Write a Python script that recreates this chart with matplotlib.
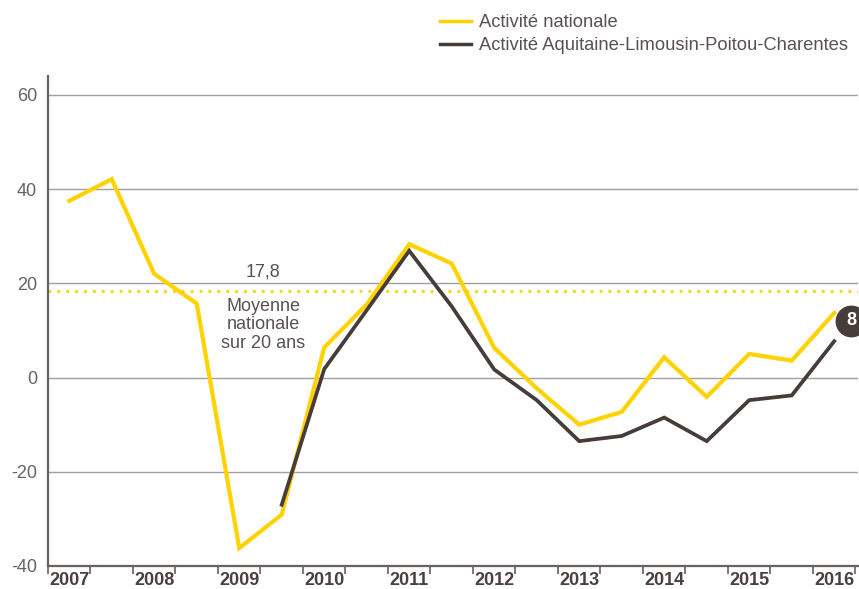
import matplotlib
matplotlib.use("Agg")
import matplotlib.pyplot as plt
from matplotlib.lines import Line2D
import numpy as np

plt.rcParams['font.family'] = ['Liberation Sans', 'DejaVu Sans']
plt.rcParams['axes.unicode_minus'] = False

# semester data (points sit at the middle of each half-year)
x_nat = [2007.25, 2007.75, 2008.25, 2008.75, 2009.25, 2009.75, 2010.25, 2010.75,
         2011.25, 2011.75, 2012.25, 2012.75, 2013.25, 2013.75, 2014.25, 2014.75,
         2015.25, 2015.75, 2016.25]
nationale = [37.5, 42.1, 22.0, 15.7, -36.2, -29.1, 6.4, 15.5,
             28.3, 24.2, 6.3, -2.3, -10.0, -7.3, 4.3, -4.1,
             5.0, 3.6, 13.7]
x_reg = [2009.75, 2010.25, 2010.75, 2011.25, 2011.75, 2012.25, 2012.75,
         2013.25, 2013.75, 2014.25, 2014.75, 2015.25, 2015.75, 2016.25]
regionale = [-27.0, 1.8, 14.3, 26.9, 15.1, 1.7, -4.8,
             -13.5, -12.4, -8.5, -13.5, -4.8, -3.8, 7.7]
years = list(range(2007, 2017))
moyenne = 18.3          # where the dotted line sits in the picture
moyenne_label = "17,8"
badge = "8"

yellow = "#ffd200"
dark = "#463c3a"
grey = "#a59d9b"
txt = "#5a5150"

fig = plt.figure(figsize=(8.59, 5.89), dpi=100)
ax = fig.add_axes([48/859, 1-566/589, 810/859, 490/589])

ax.set_xlim(2007, 2016.53)
ax.set_ylim(-40, 64)

for y in [-20, 0, 20, 40, 60]:
    ax.axhline(y, color=grey, lw=1.0, zorder=1)

ax.axhline(moyenne, color=yellow, lw=2.0, ls=(0, (1, 2.2)), zorder=2)
ax.text(2009.53, moyenne + 2.2, moyenne_label, ha='center', va='bottom', fontsize=13, color=txt)
ax.text(2009.53, moyenne - 1.4, "Moyenne\nnationale\nsur 20 ans", ha='center', va='top',
        fontsize=13, color=txt, linespacing=1.1)

ax.plot(x_nat, nationale, color=yellow, lw=3.0, solid_joinstyle='miter', zorder=3)
ax.plot(x_reg, regionale, color=dark, lw=2.7, solid_joinstyle='miter', zorder=4)

# badge with the last regional value
ax.scatter([2016.45], [12.0], s=480, color=dark, zorder=5, clip_on=False)
ax.text(2016.45, 12.0, badge, ha='center', va='center', color='white',
        fontsize=13, fontweight='bold', zorder=6, clip_on=False)

for s in ['top', 'right']:
    ax.spines[s].set_visible(False)
for s in ['left', 'bottom']:
    ax.spines[s].set_color("#6a6060")
    ax.spines[s].set_linewidth(1.6)

ax.set_yticks([-40, -20, 0, 20, 40, 60])
ax.tick_params(axis='y', length=0, labelsize=13, labelcolor="#6a6262", pad=8)
ax.set_xticks(np.arange(2007, 2016.6, 0.5))
ax.set_xticklabels([])
ax.tick_params(axis='x', which='major', length=6, width=1.2, color="#6a6060")
ax.set_xticks([yr + 0.25 for yr in years], minor=True)
ax.set_xticklabels([str(yr) for yr in years], minor=True, fontsize=13,
                   fontweight='bold', color="#4a4040")
ax.tick_params(axis='x', which='minor', length=0, pad=4)

handles = [Line2D([], [], color=yellow, lw=2.5), Line2D([], [], color=dark, lw=2.5)]
fig.legend(handles, ["Activité nationale", "Activité Aquitaine-Limousin-Poitou-Charentes"],
           loc='upper left', bbox_to_anchor=(423/859, 1+2/589), frameon=False,
           fontsize=13.2, handlelength=1.7, handletextpad=0.45, labelspacing=0.3,
           labelcolor=txt)

fig.savefig("out.png", dpi=100)
